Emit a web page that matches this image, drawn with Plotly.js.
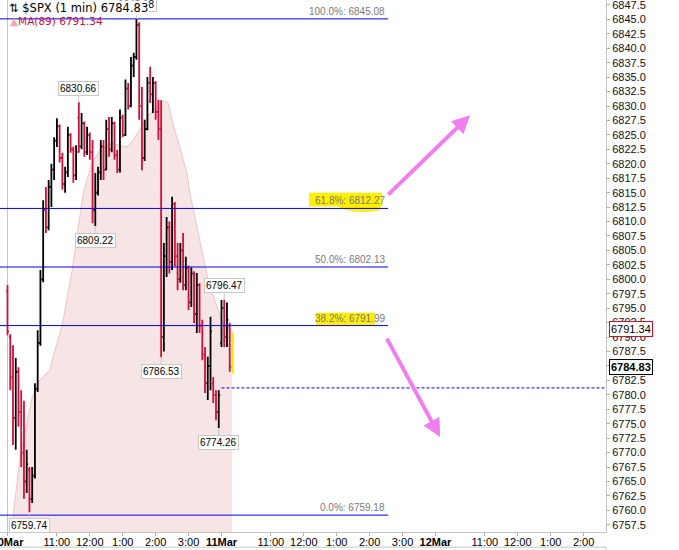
<!DOCTYPE html>
<html>
<head>
<meta charset="utf-8">
<script src="https://cdn.plot.ly/plotly-3.0.1.min.js"></script>
<style>
  body { margin: 0; background: #fff; }
  #chart { width: 679px; height: 550px; }
</style>
</head>
<body>
<div id="chart"></div>
<script>
// $SPX 1 min (5 min steps, 10 Mar from 9:30)
var day1Open  = [6798,6790,6783,6776,6784,6777,6770,6765,6767,6762,6766,6781,6789,6800,6812,6809,6816,6819,6824,6826.5,
                 6821,6816.5,6818.5,6825,6822.5,6818,6828,6823,6827,6822,6825,6822,6812,6815,6818.5,6823,6819,6826,6822.5,6827,
                 6821.5,6819,6828,6825,6833,6830,6837,6838.5,6844,6830,6821,6826,6834,6832,6834,6829,6826,6790,6804,6809,
                 6803,6813,6804,6800,6805,6799,6802,6796,6801,6794,6799,6792,6787,6782,6785,6782,6780,6777];
var day1High  = [6799,6790.5,6788.6,6786.4,6784.8,6780.8,6779,6770.5,6767.5,6767.5,6782,6791.2,6801.6,6813.7,6816,6817.2,6820,6824.6,6827.9,6826.8,
                 6821.9,6819.5,6826.4,6825.3,6823,6823.2,6830.66,6828.8,6827.3,6826.4,6825.4,6824.1,6818.4,6819.5,6824.1,6824.1,6827.6,6828.1,6828.1,6827.3,
                 6822.4,6829.4,6828.5,6834.6,6834,6838.5,6839.2,6845.08,6844.5,6833.3,6827.6,6835,6836.8,6835,6834.3,6831.1,6831,6806.3,6810.8,6810,
                 6814.3,6813.4,6806.3,6806.3,6808,6803.9,6802.4,6802.1,6801.4,6801.1,6799.3,6793,6788.3,6786.6,6793.5,6783.1,6780.8,6780.8];
var day1Low   = [6790.3,6780.8,6771.3,6770.5,6774.5,6767.5,6762,6763,6759.74,6761.3,6765.5,6780.5,6788.5,6799.5,6808,6808.5,6812.5,6817.2,6822.9,6820.2,
                 6815.5,6815,6817.7,6821.9,6816.7,6817.2,6821.9,6822.5,6821.2,6821.5,6820.7,6809.7,6809.22,6814.5,6817.2,6817.2,6818.9,6821.2,6822,6820.7,
                 6818.4,6818.5,6824.6,6824.8,6829.4,6829.8,6835,6838,6827.6,6818.9,6820.5,6825.8,6830.5,6828.8,6827.6,6824.1,6786.53,6787.5,6800.4,6801,
                 6801.6,6802.2,6798.1,6799.4,6798.1,6798.1,6794.7,6795.2,6792.4,6790.7,6790.7,6786,6780.3,6779.1,6780.8,6778.6,6775.6,6774.26];
var day1Close = [6791,6783,6776,6784,6777,6770,6765,6768,6762,6766,6781,6789,6800,6812,6809,6816,6819,6824,6826.5,6821,
                 6816.5,6818.5,6825,6822.5,6818,6822,6823,6827,6822,6825,6822,6812,6815,6818.5,6823,6819,6826,6822.5,6827,6821.5,
                 6819,6828,6825,6833,6830,6837,6838.5,6844,6830,6821,6826,6834,6832,6834,6829,6826,6790,6804,6809,6803,
                 6813,6804,6800,6805,6799,6802,6796,6801,6794,6799,6792,6787,6782,6785,6791,6780,6777,6780];
// 11 Mar opening bars
var day2Open  = [6789,6795,6790,6792];
var day2High  = [6796.4,6796.47,6796,6792.5];
var day2Low   = [6788.3,6788.3,6788.3,6784.0];
var day2Close = [6795,6790,6793,6784.83];

// MA(89), trading minutes since 10 Mar 9:30
var maMinute = [8,10,23,45,59,77,83,99,118,127,138,154,169,187,205,218,229,242,254,269,283,293,302,314,327,333,345,356,365,382,393,406,409];
var maValue  = [6754.9,6758.8,6769.3,6779.6,6782.6,6784.3,6786.6,6791.7,6801.6,6808,6814.9,6820.1,6822.4,6823.6,6823.2,6822.9,6824.1,
                6826.2,6827.9,6829.8,6831.0,6830.5,6826.7,6822.9,6818.4,6814.6,6809.4,6804.7,6800.2,6795.2,6792.4,6791.34,6791.34];

// fibonacci retracement
var fibPct   = ['100.0%','61.8%','50.0%','38.2%','0.0%'];
var fibLevel = [6845.08,6812.27,6802.13,6791.99,6759.18];

var lastPrice = 6784.83, maLast = 6791.34, prevLevel = 6781.2;

// time axis labels (hours of trading time after 10 Mar 9:30)
var tickHours = [0,1.5,2.5,3.5,4.5,5.5,6.5,8,9,10,11,12,13,14.5,15.5,16.5,17.5];
var tickText  = ['<b>10Mar</b>','11:00','12:00','1:00','2:00','3:00','<b>11Mar</b>','11:00','12:00','1:00','2:00','3:00',
                 '<b>12Mar</b>','11:00','12:00','1:00','2:00'];

var FONT = 'Liberation Sans, Arial, sans-serif';
var XR = [-0.228, 18.18], YR = [6756.26, 6848.35];

var barX = [], o = [], h = [], l = [], c = [];
for (var i = 0; i < day1Open.length; i++) {
  barX.push(i * 5 / 60);
  o.push(day1Open[i]); h.push(day1High[i]); l.push(day1Low[i]); c.push(day1Close[i]);
}
for (var j = 0; j < day2Open.length; j++) {
  barX.push(6.5 + j * 5 / 60);
  o.push(day2Open[j]); h.push(day2High[j]); l.push(day2Low[j]); c.push(day2Close[j]);
}

var maTrace = {
  x: maMinute.map(function (m) { return m / 60; }),
  y: maValue,
  type: 'scatter', mode: 'lines',
  line: { color: 'rgba(235,196,200,1)', width: 1 },
  fill: 'tozeroy', fillcolor: 'rgba(247,228,228,1)',
  hoverinfo: 'skip'
};

// bars sit on an overlaid copy of the axes so they are drawn over the MA fill
var ohlcTrace = {
  x: barX, open: o, high: h, low: l, close: c,
  type: 'ohlc', xaxis: 'x2', yaxis: 'y2',
  tickwidth: 0.5,
  increasing: { line: { color: '#000000', width: 1.8 } },
  decreasing: { line: { color: '#d0103a', width: 1.8 } },
  hoverinfo: 'skip'
};

var xEnd = 11.56;   // fib lines stop under their labels
var shapes = [];
// yellow highlighter marks
shapes.push({ type: 'rect', xref: 'x', yref: 'y', x0: 9.16, x1: 11.38, y0: 6812.6, y1: 6815.0,
  fillcolor: '#fff000', line: { width: 0 }, layer: 'below' });
shapes.push({ type: 'path', xref: 'x', yref: 'y', layer: 'below', fillcolor: '#fff000', line: { width: 0 },
  path: 'M 9.9,6813.2 Q 10.3,6811.0 11.3,6811.9 L 11.35,6813.0 Z' });
shapes.push({ type: 'rect', xref: 'x', yref: 'y', x0: 9.37, x1: 11.16, y0: 6791.9, y1: 6794.2,
  fillcolor: '#fff000', line: { width: 0 }, layer: 'below' });
shapes.push({ type: 'rect', xref: 'x2', yref: 'y2', x0: 6.70, x1: 6.88, y0: 6783.6, y1: 6790.8,
  fillcolor: '#fff000', line: { width: 0 }, layer: 'below' });
// start of data
shapes.push({ type: 'line', xref: 'x', yref: 'paper', x0: 0, x1: 0, y0: 0, y1: 1,
  line: { color: '#c4c4c4', width: 1 }, layer: 'below' });
fibLevel.forEach(function (lv) {
  shapes.push({ type: 'line', xref: 'x', yref: 'y', x0: -0.3, x1: xEnd, y0: lv, y1: lv,
    line: { color: '#0000f0', width: 1 } });
});
shapes.push({ type: 'line', xref: 'x', yref: 'y', x0: 6.5, x1: 18.3, y0: prevLevel, y1: prevLevel,
  line: { color: '#0000f0', width: 1, dash: '3px,2px' } });
// lower panel edge
shapes.push({ type: 'line', xref: 'paper', yref: 'paper', x0: 0, x1: 1, y0: -0.0285, y1: -0.0285,
  line: { color: '#c4c4c4', width: 1 } });
shapes.push({ type: 'line', xref: 'paper', yref: 'paper', x0: 1, x1: 1, y0: -0.0285, y1: -0.05,
  line: { color: '#c4c4c4', width: 1 } });

var ann = [];
// fib labels
for (var k = 0; k < fibLevel.length; k++) {
  ann.push({ x: 11.53, y: fibLevel[k], xref: 'x', yref: 'y', xanchor: 'right', yanchor: 'bottom',
    text: fibPct[k] + ': ' + fibLevel[k].toFixed(2), showarrow: false,
    font: { family: FONT, size: 10, color: '#7a7a7a' } });
}
// high / low callouts
var callouts = [[47, 'high'], [26, 'high'], [32, 'low'], [56, 'low'], [79, 'high'], [77, 'low'], [8, 'low']];
callouts.forEach(function (cl) {
  var idx = cl[0], up = cl[1] === 'high';
  var val = up ? h[idx] : l[idx];
  ann.push({ x: barX[idx], y: val, xref: 'x', yref: 'y', text: val.toFixed(2),
    showarrow: true, arrowhead: 0, arrowwidth: 1, arrowcolor: '#c8c8c8', ax: 0, ay: up ? -14 : 14,
    bgcolor: '#ffffff', bordercolor: '#c8c8c8', borderwidth: 1, borderpad: 1,
    font: { family: FONT, size: 10, color: '#000' } });
});
// pink arrows
ann.push({ x: 14.05, y: 6828.4, ax: 11.52, ay: 6814.4, xref: 'x', yref: 'y', axref: 'x', ayref: 'y',
  showarrow: true, arrowhead: 2, arrowsize: 0.9, arrowwidth: 4, arrowcolor: '#f07ef0', text: '' });
ann.push({ x: 13.14, y: 6772.7, ax: 11.5, ay: 6790.0, xref: 'x', yref: 'y', axref: 'x', ayref: 'y',
  showarrow: true, arrowhead: 2, arrowsize: 0.9, arrowwidth: 4, arrowcolor: '#f07ef0', text: '' });
// header
ann.push({ x: 0.0135, y: 1 - 8 / 532, xref: 'paper', yref: 'paper', xanchor: 'left', yanchor: 'middle',
  text: '⇅ $SPX (1 min) ' + lastPrice.toFixed(2), showarrow: false, bgcolor: '#ffffff', borderpad: 0,
  font: { family: 'DejaVu Sans, sans-serif', size: 11.5, color: '#000' } });
ann.push({ x: 0.0135, y: 1 - 21 / 532, xref: 'paper', yref: 'paper', xanchor: 'left', yanchor: 'middle',
  text: '<span style="color:#f2a7b0">▲</span>MA(89) ' + maLast.toFixed(2), showarrow: false,
  font: { family: 'DejaVu Sans, sans-serif', size: 10.5, color: '#d0103a' } });
// price badges on the axis
ann.push({ x: 1, y: maLast, xref: 'paper', yref: 'y', xanchor: 'left', yanchor: 'middle', xshift: 3,
  text: maLast.toFixed(2), showarrow: false, bgcolor: '#fff', bordercolor: '#c8102e', borderwidth: 1, borderpad: 1,
  font: { family: FONT, size: 11, color: '#000' } });
ann.push({ x: 1, y: lastPrice, xref: 'paper', yref: 'y', xanchor: 'left', yanchor: 'middle', xshift: 3,
  text: '<b>' + lastPrice.toFixed(2) + '</b>', showarrow: false, bgcolor: '#fff', bordercolor: '#000', borderwidth: 1, borderpad: 1,
  font: { family: FONT, size: 11, color: '#000' } });
// lower panel value, cut off by the window
ann.push({ x: 1, y: -0.03, xref: 'paper', yref: 'paper', xanchor: 'left', yanchor: 'top', xshift: 4,
  text: '85.20', showarrow: false, font: { family: FONT, size: 11, color: '#000' } });

var layout = {
  width: 679, height: 550,
  margin: { l: 0, r: 73, t: 0, b: 18, pad: 0 },
  paper_bgcolor: '#fff', plot_bgcolor: '#fff',
  showlegend: false,
  xaxis: {
    range: XR, tickmode: 'array', tickvals: tickHours, ticktext: tickText,
    ticks: 'outside', ticklen: 3, tickcolor: '#b0b0b0', ticklabeloverflow: 'allow', ticklabelstandoff: -3,
    showline: true, linecolor: '#c4c4c4', showgrid: false, zeroline: false,
    rangeslider: { visible: false },
    tickfont: { family: FONT, size: 11, color: '#000' }, fixedrange: true
  },
  yaxis: {
    side: 'right', range: YR, dtick: 2.5, tick0: 0, tickformat: '.1f',
    ticks: 'outside', ticklen: 3, tickcolor: '#b0b0b0', ticklabeloverflow: 'allow',
    showline: true, linecolor: '#c4c4c4', showgrid: false, zeroline: false,
    tickfont: { family: FONT, size: 11, color: '#111' }, fixedrange: true
  },
  xaxis2: { overlaying: 'x', range: XR, visible: false, fixedrange: true, rangeslider: { visible: false } },
  yaxis2: { overlaying: 'y', side: 'right', range: YR, visible: false, fixedrange: true },
  shapes: shapes,
  annotations: ann
};

Plotly.newPlot('chart', [maTrace, ohlcTrace], layout, { displayModeBar: false, staticPlot: true });
</script>
</body>
</html>
